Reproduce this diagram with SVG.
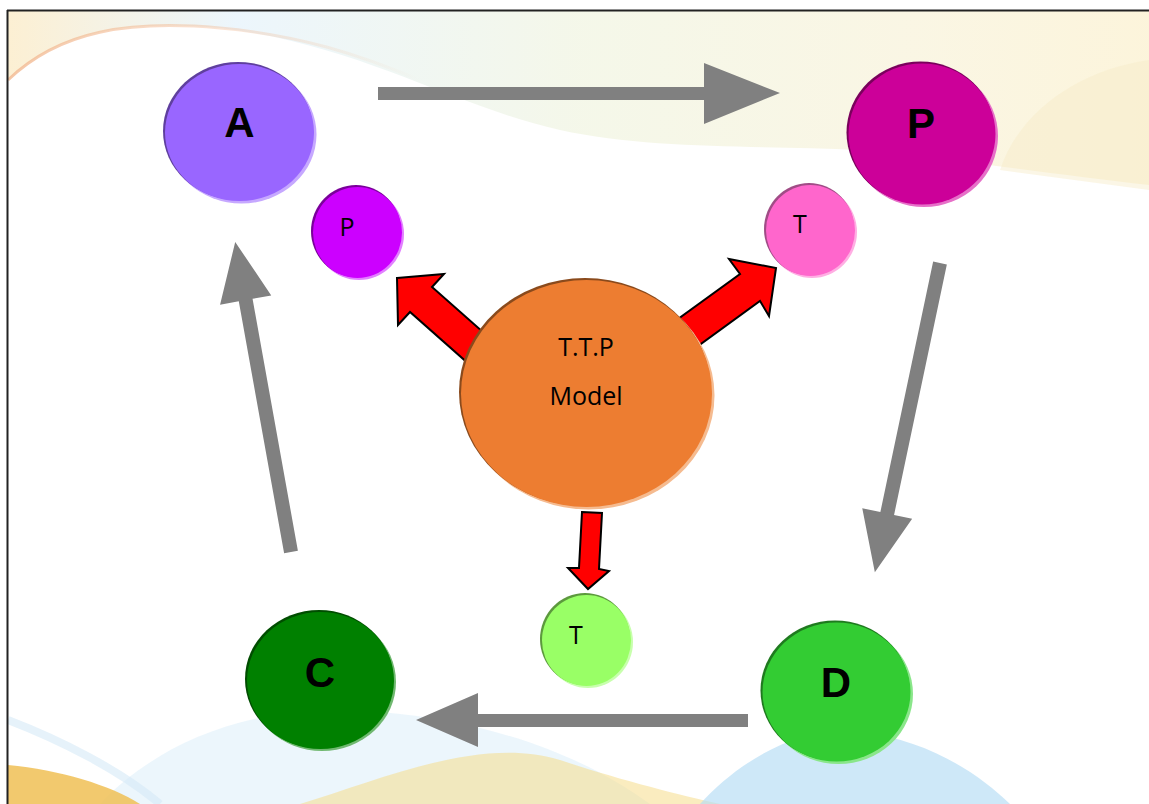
<svg xmlns="http://www.w3.org/2000/svg" width="1149" height="804" viewBox="0 0 1149 804">
<defs>
<style>
.big{font-family:"Liberation Sans",Arial,sans-serif;font-weight:bold;font-size:42px;fill:#000;text-anchor:middle}
.sm{font-family:"Open Sans","Liberation Sans",sans-serif;font-size:25px;fill:#000;text-anchor:middle}
.mid{font-family:"Open Sans","Liberation Sans",sans-serif;font-size:25px;fill:#000;text-anchor:middle}
.gray{fill:#808080}
.red{fill:#FF0000;stroke:#000;stroke-width:2;stroke-linejoin:miter}
</style>
<linearGradient id="topTint" x1="0" y1="0" x2="1" y2="0">
<stop offset="0" stop-color="#fbe9c0"/>
<stop offset="0.2" stop-color="#e4f2fb"/>
<stop offset="0.5" stop-color="#f0f4e0"/>
<stop offset="0.8" stop-color="#f8f2d8"/>
<stop offset="1" stop-color="#fbf0cc"/>
</linearGradient>
<linearGradient id="edge" x1="0" y1="0" x2="1" y2="0">
<stop offset="0" stop-color="#f2b890" stop-opacity="0.8"/>
<stop offset="1" stop-color="#f2b890" stop-opacity="0"/>
</linearGradient>
</defs>
<rect width="1149" height="804" fill="#fff"/>
<g id="background">
<path d="M8,11 H1149 V185 C1060,175 960,160 860,150 C760,145 650,150 560,130 C450,105 360,45 220,28 C130,20 60,30 8,80 Z" fill="url(#topTint)" opacity="0.7"/>
<path d="M8,80 C60,30 130,20 220,28 C300,35 360,55 420,80" fill="none" stroke="url(#edge)" stroke-width="3"/>
<path d="M1149,60 C1080,70 1020,110 1000,170 L1149,190 Z" fill="#f7ecc8" opacity="0.45"/>
<path d="M100,804 C160,740 260,700 380,712 C500,722 590,760 650,804 Z" fill="#dceff9" opacity="0.55"/>
<path d="M300,804 C380,780 480,735 560,760 C620,780 680,795 720,804 Z" fill="#f5dc8a" opacity="0.55"/>
<path d="M700,804 C740,760 800,725 860,732 C930,740 980,775 1010,804 Z" fill="#b4dcf5" opacity="0.65"/>
<path d="M8,765 C60,770 110,785 140,804 H8 Z" fill="#f0bf55" opacity="0.85"/>
<path d="M8,720 C60,740 120,770 160,804" fill="none" stroke="#d6eaf6" stroke-width="8" opacity="0.6"/>
</g>
<line x1="7.5" y1="10" x2="7.5" y2="804" stroke="#222" stroke-width="2"/>
<line x1="7" y1="10.5" x2="1149" y2="10.5" stroke="#222" stroke-width="2"/>
<g id="connectors">
<path class="gray" d="M378,87 H704 V63 L780,93 L704,124 V100 H378 Z"/>
<path class="gray" d="M748,714 H478 V693 L416,720 L478,747 V727 H748 Z"/>
<polygon class="gray" transform="translate(940,263) rotate(101.9)" points="0,-7 256,-7 256,-25.5 316,0 256,25.5 256,7 0,7"/>
<polygon class="gray" transform="translate(291,552) rotate(-100.2)" points="0,-7 256,-7 256,-26 315,0 256,26 256,7 0,7"/>
<polygon class="red" points="397,278 444,274 432,287 492,340 470,365 410,312 398,325"/>
<polygon class="red" points="776,268 769,316 760,301 687,354 667,327 740,274 729,259"/>
<polygon class="red" points="582,512 602,513 599,569 609,571 588,589 568,568 579,568"/>
</g>
<g id="node-A">
<ellipse cx="241.5" cy="134.5" rx="75" ry="69" fill="#c6a8ff"/>
<ellipse cx="238" cy="131" rx="75" ry="69" fill="#5f3f9e"/>
<ellipse cx="239.5" cy="132.5" rx="74.5" ry="68.5" fill="#9966FF"/>
<text class="big" x="239.5" y="137">A</text>
</g>
<g id="node-P-small">
<ellipse cx="359" cy="234" rx="45" ry="46" fill="#e280ff"/>
<ellipse cx="356" cy="231" rx="45" ry="46" fill="#7a009a"/>
<ellipse cx="357.5" cy="232.5" rx="44.5" ry="45.5" fill="#CC00FF"/>
<text class="sm" x="347" y="236">P</text>
</g>
<g id="node-P">
<ellipse cx="924" cy="136" rx="74" ry="71" fill="#e670c8"/>
<ellipse cx="920.5" cy="132.5" rx="74" ry="71" fill="#7a005c"/>
<ellipse cx="922" cy="134" rx="73.5" ry="70.5" fill="#CC0099"/>
<text class="big" x="921" y="138">P</text>
</g>
<g id="node-T-pink">
<ellipse cx="812" cy="232" rx="45" ry="46" fill="#ffaee3"/>
<ellipse cx="809" cy="229" rx="45" ry="46" fill="#a04c86"/>
<ellipse cx="810.5" cy="230.5" rx="44.5" ry="45.5" fill="#FF66CC"/>
<text class="sm" x="800" y="233">T</text>
</g>
<g id="node-TTP">
<ellipse cx="588.5" cy="395.5" rx="126" ry="114" fill="#f5bb90"/>
<ellipse cx="585" cy="392" rx="126" ry="114" fill="#8a4a1c"/>
<ellipse cx="586.5" cy="393.5" rx="125.5" ry="113.5" fill="#ED7D31"/>
<text class="mid" x="586" y="356">T.T.P</text>
<text class="mid" x="586" y="405">Model</text>
</g>
<g id="node-T-green">
<ellipse cx="588" cy="642" rx="45" ry="46" fill="#c8ffad"/>
<ellipse cx="585" cy="639" rx="45" ry="46" fill="#5c993d"/>
<ellipse cx="586.5" cy="640.5" rx="44.5" ry="45.5" fill="#99FF66"/>
<text class="sm" x="576" y="644">T</text>
</g>
<g id="node-C">
<ellipse cx="322" cy="682" rx="74" ry="69" fill="#70b870"/>
<ellipse cx="319" cy="679" rx="74" ry="69" fill="#004d00"/>
<ellipse cx="320.5" cy="680.5" rx="73.5" ry="68.5" fill="#008000"/>
<text class="big" x="320" y="687">C</text>
</g>
<g id="node-D">
<ellipse cx="838.5" cy="694" rx="74.5" ry="70" fill="#8ae68a"/>
<ellipse cx="835" cy="690.5" rx="74.5" ry="70" fill="#1f7a1f"/>
<ellipse cx="836.5" cy="692" rx="74" ry="69.5" fill="#33CC33"/>
<text class="big" x="836" y="697">D</text>
</g>
</svg>
